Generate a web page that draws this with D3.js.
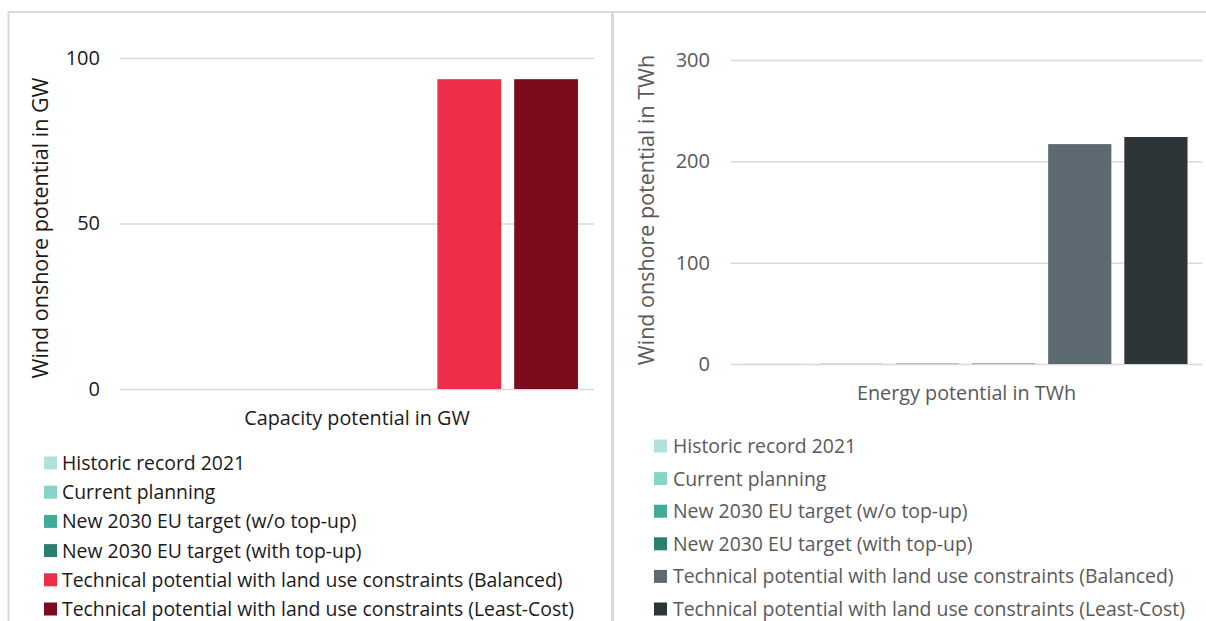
<!DOCTYPE html>
<html>
<head>
<meta charset="utf-8">
<script src="https://cdn.jsdelivr.net/npm/d3@7"></script>
<style>
  html, body { margin: 0; padding: 0; background: #fff; }
  svg { display: block; font-family: "Open Sans", "Noto Sans", sans-serif; }
  .domain { display: none; }
</style>
</head>
<body>
<svg id="chart" width="1206" height="621"></svg>
<script>
// ---- data ----
const seriesNames = [
  "Historic record 2021",
  "Current planning",
  "New 2030 EU target (w/o top-up)",
  "New 2030 EU target (with top-up)",
  "Technical potential with land use constraints (Balanced)",
  "Technical potential with land use constraints (Least-Cost)"
];
const capacityCategory = ["Capacity potential in GW"];
const capacityGW = [0, 0, 0, 0, 93.6, 93.6];
const capacityTicks = [0, 50, 100];
const capacityColors = ["#b2e0db", "#87d3c5", "#40ab9a", "#2e7e70", "#ee2d48", "#7b0b1d"];

const energyCategory = ["Energy potential in TWh"];
const energyTWh = [0.3, 0.5, 0.5, 0.5, 217, 224];
const energyTicks = [0, 100, 200, 300];
const energyColors = ["#b2e0db", "#87d3c5", "#40ab9a", "#2e7e70", "#5d6a72", "#2d3538"];

const svg = d3.select("#chart");

// panel borders
const borderColor = "#d9d9d9";
svg.append("line").attr("x1", 8).attr("x2", 1206).attr("y1", 12).attr("y2", 12)
  .attr("stroke", borderColor).attr("stroke-width", 2);
svg.append("line").attr("x1", 8.5).attr("x2", 8.5).attr("y1", 11).attr("y2", 621)
  .attr("stroke", borderColor).attr("stroke-width", 2);
svg.append("line").attr("x1", 612.5).attr("x2", 612.5).attr("y1", 11).attr("y2", 621)
  .attr("stroke", borderColor).attr("stroke-width", 3);

function panel(cfg) {
  const g = svg.append("g");
  const y = d3.scaleLinear().domain([0, cfg.ymax]).range([cfg.y0, cfg.y1]);
  const x0 = d3.scaleBand().domain(cfg.category).range([cfg.gx0, cfg.gx1]);
  const x1 = d3.scaleBand().domain(seriesNames)
    .range([cfg.bx0, cfg.bx1]).paddingInner(0.17).paddingOuter(0.085);

  // gridlines
  const grid = g.append("g").attr("transform", `translate(${cfg.gx0},0)`)
    .call(d3.axisLeft(y).tickValues(cfg.ticks).tickSize(-(cfg.gx1 - cfg.gx0)).tickFormat(""));
  grid.selectAll(".tick line").attr("stroke", "#d9d9d9").attr("stroke-width", 1.5);

  // tick labels
  const ax = g.append("g").attr("transform", `translate(${cfg.labelX},0)`)
    .call(d3.axisLeft(y).tickValues(cfg.ticks).tickSize(0).tickPadding(0));
  ax.selectAll(".tick text").attr("fill", cfg.textColor)
    .style("font-size", "20px").style("font-family", "'Open Sans', sans-serif");

  // bars
  g.append("g").selectAll("rect")
    .data(cfg.values.map((v, i) => ({ name: seriesNames[i], v, c: cfg.colors[i] })))
    .join("rect")
    .attr("x", d => x1(d.name))
    .attr("width", x1.bandwidth())
    .attr("y", d => y(d.v))
    .attr("height", d => y(0) - y(d.v))
    .attr("fill", d => d.c);

  // x category label
  g.append("text")
    .attr("x", x0(cfg.category[0]) + x0.bandwidth() / 2)
    .attr("y", cfg.catY)
    .attr("text-anchor", "middle")
    .attr("fill", cfg.textColor)
    .style("font-size", "19.8px")
    .text(cfg.category[0]);

  // y title
  g.append("text")
    .attr("transform", `translate(${cfg.titleX},${cfg.titleY}) rotate(-90)`)
    .attr("text-anchor", "middle")
    .attr("fill", cfg.textColor)
    .style("font-size", "21.5px")
    .text(cfg.title);

  // legend
  const lg = g.append("g").selectAll("g")
    .data(seriesNames.map((n, i) => ({ n, c: cfg.colors[i], i })))
    .join("g")
    .attr("transform", d => `translate(${cfg.legX},${cfg.legY + d.i * cfg.legStep})`);
  lg.append("rect").attr("x", 0).attr("y", -6.5).attr("width", 13).attr("height", 13)
    .attr("fill", d => d.c);
  lg.append("text").attr("x", cfg.legTextDx).attr("y", 0).attr("dy", "0.36em")
    .attr("fill", cfg.textColor)
    .style("font-size", "19.4px")
    .text(d => d.n);
}

panel({
  category: capacityCategory, values: capacityGW, colors: capacityColors,
  ticks: capacityTicks, ymax: 100, y0: 389, y1: 58,
  gx0: 120, gx1: 594, bx0: 123.5, bx1: 584.5,
  labelX: 100, textColor: "#1a1a1a",
  catY: 425, title: "Wind onshore potential in GW", titleX: 48, titleY: 228,
  legX: 44, legY: 463, legStep: 29.2, legTextDx: 18
});

panel({
  category: energyCategory, values: energyTWh, colors: energyColors,
  ticks: energyTicks, ymax: 300, y0: 364, y1: 60,
  gx0: 731, gx1: 1202, bx0: 737, bx1: 1194,
  labelX: 710, textColor: "#595959",
  catY: 400, title: "Wind onshore potential in TWh", titleX: 654, titleY: 210,
  legX: 654, legY: 446, legStep: 32.6, legTextDx: 19
});
</script>
</body>
</html>
